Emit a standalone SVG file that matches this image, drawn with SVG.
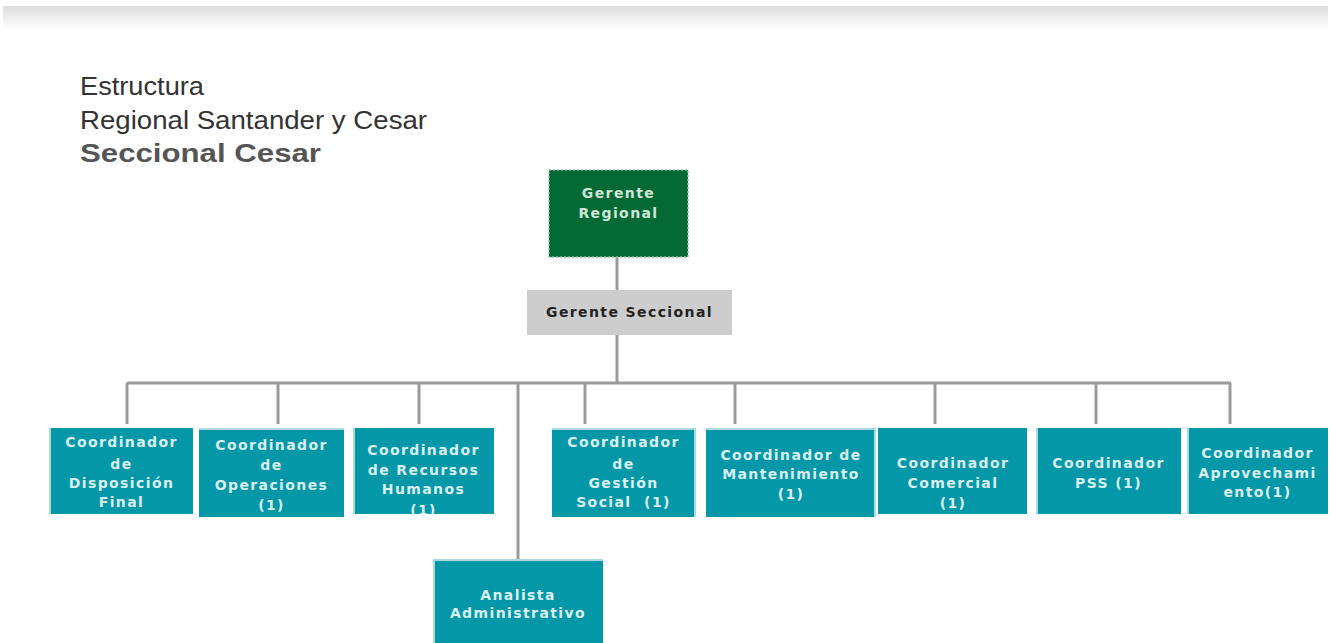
<svg xmlns="http://www.w3.org/2000/svg" width="1332" height="643" viewBox="0 0 1332 643">
<defs>
<linearGradient id="bar" x1="0" y1="0" x2="0" y2="1">
<stop offset="0" stop-color="#dcdcdc"/>
<stop offset="1" stop-color="#ffffff"/>
</linearGradient>
<clipPath id="c3"><rect x="353" y="428" width="141" height="86"/></clipPath>
</defs>
<style>
.title{font-family:"Liberation Sans",Arial,sans-serif;font-size:25px;fill:#333}
.sub{font-family:"Liberation Sans",Arial,sans-serif;font-size:25px;font-weight:bold;fill:#555}
.box{fill:#0397a8}
.edge{fill:#a9d9df}
.t{font-family:"DejaVu Sans",Verdana,sans-serif;font-size:14px;font-weight:bold;fill:#d9f1f3;text-anchor:middle;letter-spacing:1.4px}
.td{fill:#222}
.tg{fill:#cfe6d6}
.conn line{stroke:#9a9a9a;stroke-width:3;fill:none}
</style>
<rect x="3" y="6" width="1325" height="24" fill="url(#bar)"/>
<g id="title">
<text class="title" x="80" y="95" textLength="124" lengthAdjust="spacingAndGlyphs">Estructura</text>
<text class="title" x="80" y="129" textLength="347" lengthAdjust="spacingAndGlyphs">Regional Santander y Cesar</text>
<text class="sub" x="80" y="162" textLength="241" lengthAdjust="spacingAndGlyphs">Seccional Cesar</text>
</g>
<g class="conn">
<line x1="617" y1="257" x2="617" y2="290"/>
<line x1="617" y1="335" x2="617" y2="383"/>
<line x1="127" y1="383" x2="1231" y2="383"/>
<line x1="127" y1="383" x2="127" y2="424"/>
<line x1="278" y1="383" x2="278" y2="424"/>
<line x1="419" y1="383" x2="419" y2="424"/>
<line x1="585" y1="383" x2="585" y2="424"/>
<line x1="735" y1="383" x2="735" y2="424"/>
<line x1="935" y1="383" x2="935" y2="424"/>
<line x1="1096" y1="383" x2="1096" y2="424"/>
<line x1="1230" y1="383" x2="1230" y2="424"/>
<line x1="518" y1="383" x2="518" y2="560"/>
</g>
<g id="gerente-regional">
<rect x="549" y="170" width="139" height="87" fill="#046a35" stroke="#8fbf9f" stroke-width="1.5" stroke-dasharray="2 2"/>
<text class="t tg" x="618.5" y="198">Gerente</text>
<text class="t tg" x="618.5" y="218">Regional</text>
</g>
<g id="gerente-seccional">
<rect x="527" y="290" width="205" height="45" fill="#cdcdcd"/>
<text class="t td" x="629.5" y="317">Gerente Seccional</text>
</g>
<g id="coord-disposicion">
<rect class="box" x="49" y="428" width="144" height="86"/>
<rect class="edge" x="49" y="428" width="2" height="86"/>
<text class="t" x="121.5" y="447">Coordinador</text>
<text class="t" x="121.5" y="469">de</text>
<text class="t" x="121.5" y="488">Disposición</text>
<text class="t" x="121.5" y="507">Final</text>
</g>
<g id="coord-operaciones">
<rect class="box" x="199" y="428" width="145" height="89"/>
<rect class="edge" x="199" y="428" width="145" height="2"/>
<text class="t" x="271.5" y="450">Coordinador</text>
<text class="t" x="271.5" y="470">de</text>
<text class="t" x="271.5" y="490">Operaciones</text>
<text class="t" x="271.5" y="510">(1)</text>
</g>
<g id="coord-rrhh">
<rect class="box" x="353" y="428" width="141" height="86"/>
<rect class="edge" x="353" y="428" width="2" height="86"/>
<g clip-path="url(#c3)">
<text class="t" x="423.5" y="455">Coordinador</text>
<text class="t" x="423.5" y="475">de Recursos</text>
<text class="t" x="423.5" y="494">Humanos</text>
<text class="t" x="423.5" y="515">(1)</text>
</g>
</g>
<g id="coord-gestion-social">
<rect class="box" x="552" y="428" width="144" height="89"/>
<rect class="edge" x="552" y="428" width="144" height="2"/>
<rect class="edge" x="694" y="428" width="2" height="89"/>
<text class="t" x="623.5" y="447">Coordinador</text>
<text class="t" x="623.5" y="469">de</text>
<text class="t" x="623.5" y="488">Gestión</text>
<text class="t" x="623.5" y="507">Social &#160;(1)</text>
</g>
<g id="coord-mantenimiento">
<rect class="box" x="706" y="428" width="170" height="89"/>
<rect class="edge" x="706" y="428" width="170" height="2"/>
<rect class="edge" x="874" y="428" width="2" height="89"/>
<text class="t" x="791" y="460">Coordinador de</text>
<text class="t" x="791" y="479">Mantenimiento</text>
<text class="t" x="791" y="499">(1)</text>
</g>
<g id="coord-comercial">
<rect class="box" x="878" y="428" width="149" height="86"/>
<text class="t" x="953" y="468">Coordinador</text>
<text class="t" x="953" y="488">Comercial</text>
<text class="t" x="953" y="508">(1)</text>
</g>
<g id="coord-pss">
<rect class="box" x="1036" y="428" width="145" height="86"/>
<rect class="edge" x="1036" y="428" width="2" height="86"/>
<text class="t" x="1108.5" y="468">Coordinador</text>
<text class="t" x="1108.5" y="488">PSS (1)</text>
</g>
<g id="coord-aprovechamiento">
<rect class="box" x="1187" y="428" width="141" height="86"/>
<rect class="edge" x="1187" y="428" width="2" height="86"/>
<text class="t" x="1257.5" y="458">Coordinador</text>
<text class="t" x="1257.5" y="478">Aprovechami</text>
<text class="t" x="1257.5" y="497">ento(1)</text>
</g>
<g id="analista-administrativo">
<rect class="box" x="433" y="559" width="170" height="84"/>
<rect class="edge" x="433" y="559" width="170" height="2"/>
<rect class="edge" x="433" y="559" width="2" height="84"/>
<text class="t" x="518" y="600">Analista</text>
<text class="t" x="518" y="618">Administrativo</text>
</g>
</svg>
